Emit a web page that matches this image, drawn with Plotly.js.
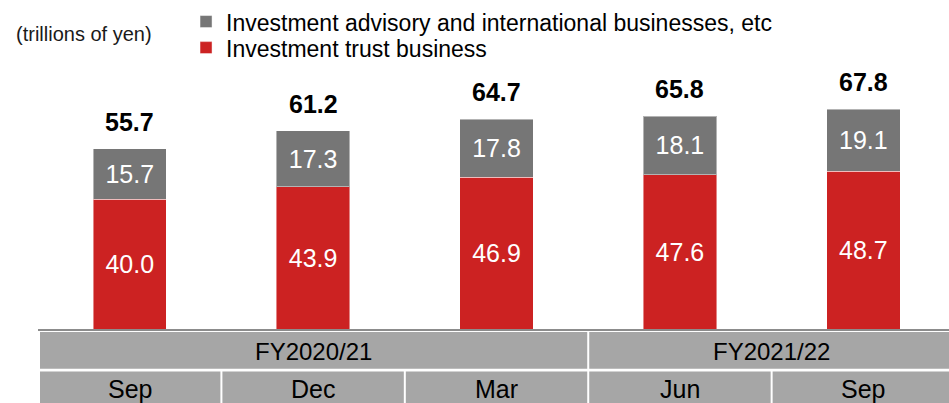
<!DOCTYPE html>
<html>
<head>
<meta charset="utf-8">
<script src="https://cdn.plot.ly/plotly-3.0.1.min.js"></script>
<style>html,body{margin:0;padding:0;background:#fff;}#chart{width:949px;height:403px;}</style>
</head>
<body>
<div id="chart"></div>
<script>
// ---- data ----
const periods = ['Sep', 'Dec', 'Mar', 'Jun', 'Sep'];
const fiscalYears = ['FY2020/21', 'FY2021/22'];
const fyFirstIndex = [0, 3];
const fyLastIndex = [2, 4];
const investmentTrust = [40.0, 43.9, 46.9, 47.6, 48.7];
const advisoryIntl = [15.7, 17.3, 17.8, 18.1, 19.1];
const totals = [55.7, 61.2, 64.7, 65.8, 67.8];
const seriesNames = ['Investment trust business', 'Investment advisory and international businesses, etc'];
const unitLabel = '(trillions of yen)';

const RED = '#cc2222';
const GRAY = '#767676';
const CELL = '#a6a6a6';
const FONT = 'Liberation Sans, Arial, Helvetica, sans-serif';

const xIdx = periods.map((_, i) => i);

const traces = [
  {
    type: 'bar', x: xIdx, y: investmentTrust, name: seriesNames[0],
    marker: {color: RED, line: {color: 'rgba(255,255,255,0.45)', width: 1}},
    width: 0.4,
    texttemplate: '%{y:.1f}', textposition: 'inside', insidetextanchor: 'middle',
    textangle: 0, textfont: {color: '#ffffff', size: 25, family: FONT},
    legend: 'legend2', hoverinfo: 'skip'
  },
  {
    type: 'bar', x: xIdx, y: advisoryIntl, name: seriesNames[1],
    marker: {color: GRAY, line: {color: 'rgba(255,255,255,0.45)', width: 1}},
    width: 0.4,
    texttemplate: '%{y:.1f}', textposition: 'inside', insidetextanchor: 'middle',
    textangle: 0, textfont: {color: '#ffffff', size: 25, family: FONT},
    legend: 'legend', hoverinfo: 'skip'
  }
];

const annotations = [];
// totals above bars
totals.forEach((t, i) => {
  annotations.push({
    x: i, y: t, xref: 'x', yref: 'y', text: '<b>' + t.toFixed(1) + '</b>',
    showarrow: false, yanchor: 'bottom', yshift: 11,
    font: {size: 25, color: '#000', family: FONT}
  });
});
// unit label
annotations.push({
  x: -0.0263, y: 0.905, xref: 'paper', yref: 'paper', xanchor: 'left', yanchor: 'middle',
  text: unitLabel, showarrow: false, font: {size: 20, color: '#1a1a1a', family: FONT}
});

const shapes = [];
const px = 1 / 183.4; // one pixel in category units
const row1Top = -0.0091, row1Bot = -0.1216, row2Top = -0.1307, row2Bot = -0.3;
// fiscal-year row
fiscalYears.forEach((fy, k) => {
  const x0 = k === 0 ? fyFirstIndex[k] - 0.5 + 2 * px : fyFirstIndex[k] - 0.5 + px;
  const x1 = fyLastIndex[k] + 0.5 - px;
  shapes.push({type: 'rect', xref: 'x', yref: 'paper', x0: x0, x1: x1,
    y0: row1Bot, y1: row1Top, fillcolor: CELL, line: {width: 0}, layer: 'below'});
  annotations.push({x: (fyFirstIndex[k] + fyLastIndex[k]) / 2,
    y: -0.068, xref: 'x', yref: 'paper', text: fy, showarrow: false, yanchor: 'middle',
    font: {size: 24, color: '#000', family: FONT}});
});
// period row
periods.forEach((p, i) => {
  shapes.push({type: 'rect', xref: 'x', yref: 'paper', x0: (i === 0 ? -0.5 + 2 * px : i - 0.5 + px), x1: i + 0.5 - px,
    y0: row2Bot, y1: row2Top, fillcolor: CELL, line: {width: 0}, layer: 'below'});
  annotations.push({x: i, y: -0.183, xref: 'x', yref: 'paper', text: p, showarrow: false, yanchor: 'middle',
    font: {size: 25, color: '#000', family: FONT}});
});

const layout = {
  width: 949, height: 403,
  margin: {l: 38, r: 0, t: 0, b: 74, pad: 0},
  paper_bgcolor: '#fff', plot_bgcolor: '#fff',
  barmode: 'stack', bargap: 0.6,
  xaxis: {range: [-0.5, 4.467], showgrid: false, zeroline: false, showticklabels: false, ticks: '',
    showline: true, linecolor: '#8c8c8c', linewidth: 2, fixedrange: true},
  yaxis: {range: [0, 100.6], visible: false, fixedrange: true},
  showlegend: true,
  legend: {x: 0.1625, y: 0.943, xanchor: 'left', yanchor: 'middle', bgcolor: 'rgba(0,0,0,0)',
    font: {size: 23, color: '#000', family: FONT}},
  legend2: {x: 0.1625, y: 0.863, xanchor: 'left', yanchor: 'middle', bgcolor: 'rgba(0,0,0,0)',
    font: {size: 23, color: '#000', family: FONT}},
  annotations: annotations,
  shapes: shapes,
  font: {family: FONT}
};

Plotly.newPlot('chart', traces, layout, {displayModeBar: false, staticPlot: true});
</script>
</body>
</html>
